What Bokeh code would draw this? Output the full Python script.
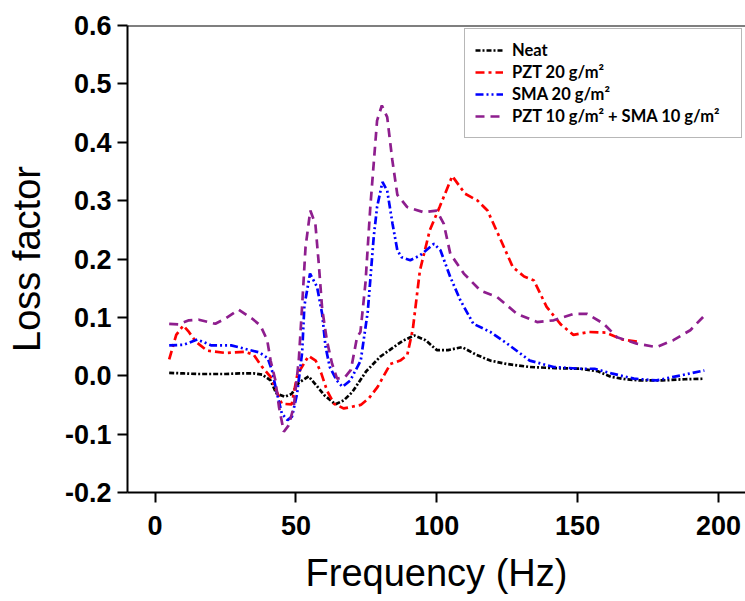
from bokeh.plotting import figure
from bokeh.models import FixedTicker, NumeralTickFormatter, Span, Legend, LegendItem
from bokeh.embed import file_html
from bokeh.resources import INLINE

# ---------------- data ----------------
neat_x = [5, 10, 15, 20, 25, 30, 35, 38, 41, 43, 46, 48.5, 51, 54.5, 57, 60, 64, 67, 70, 75,
          80, 85, 88, 92, 96, 100, 104, 109, 114, 119, 125, 133, 142, 151, 157, 162, 167, 172,
          180, 188, 195]
neat_y = [0.005, 0.004, 0.003, 0.003, 0.003, 0.004, 0.004, 0.002, -0.008, -0.03, -0.036, -0.031,
          -0.012, -0.001, -0.015, -0.033, -0.049, -0.042, -0.028, 0.008, 0.033, 0.05, 0.06, 0.069,
          0.061, 0.044, 0.044, 0.049, 0.036, 0.026, 0.02, 0.015, 0.013, 0.012, 0.008, -0.002,
          -0.006, -0.008, -0.008, -0.006, -0.005]

pzt_x = [5, 7.5, 10, 12, 14.5, 18.5, 25, 32, 35, 38, 41, 43, 45, 48.5, 50.5, 54.5, 57, 59, 61,
         63.5, 67, 73, 76, 79, 83.5, 87, 89.5, 91.5, 94, 97.5, 101, 105.5, 110, 114.5, 118,
         122.5, 127, 131, 134.5, 139, 144, 148.5, 154, 160, 166, 172]
pzt_y = [0.028, 0.07, 0.086, 0.075, 0.058, 0.043, 0.039, 0.041, 0.036, 0.015, -0.002, -0.025,
         -0.048, -0.049, 0.002, 0.034, 0.026, 0.004, -0.025, -0.048, -0.056, -0.05, -0.038,
         -0.019, 0.02, 0.026, 0.035, 0.08, 0.18, 0.249, 0.289, 0.342, 0.312, 0.3, 0.283, 0.235,
         0.186, 0.17, 0.163, 0.118, 0.088, 0.07, 0.075, 0.074, 0.062, 0.058]

sma_x = [5, 10, 15, 20, 27, 32, 37, 40, 41.5, 43.3, 45, 47, 48.6, 50.4, 52.2, 53, 55, 57.5,
         59.3, 60.5, 62, 64.5, 66.5, 69.3, 73, 75.5, 77.6, 78.8, 80.7, 82.4, 84.3, 86, 87.5,
         90.6, 94, 99, 101.3, 104.8, 108.4, 113, 119, 125, 133, 141.5, 151, 156, 162, 170,
         178, 184, 190, 195]
sma_y = [0.052, 0.053, 0.062, 0.052, 0.052, 0.046, 0.04, 0.03, 0.009, -0.031, -0.065, -0.076,
         -0.07, -0.031, 0.04, 0.12, 0.175, 0.152, 0.106, 0.05, 0.015, -0.008, -0.019, -0.008,
         0.026, 0.11, 0.237, 0.289, 0.332, 0.317, 0.26, 0.215, 0.203, 0.198, 0.206, 0.226,
         0.215, 0.169, 0.129, 0.089, 0.075, 0.055, 0.026, 0.015, 0.012, 0.012, 0.004, -0.005,
         -0.008, -0.002, 0.004, 0.009]

mix_x = [5, 8.4, 12, 15.5, 21.4, 25, 29.7, 34.4, 37.4, 39.8, 41, 42.7, 44, 45.7, 47.4, 49.2,
         51, 52.2, 53.4, 55.1, 56.9, 58.1, 59.3, 61, 62.8, 64.6, 67.5, 69.5, 71.7, 72.9, 74.7,
         76.4, 77.6, 78.8, 80.5, 82.4, 84.2, 86, 89.5, 95.4, 100, 102.5, 104.8, 109.6, 115.5,
         121.4, 128.5, 135.6, 141.5, 148.6, 153.4, 159.3, 164, 171, 178, 184, 190, 195]
mix_y = [0.089, 0.088, 0.095, 0.096, 0.089, 0.098, 0.113, 0.098, 0.086, 0.061, 0.026, -0.008,
         -0.054, -0.096, -0.085, -0.054, 0.026, 0.12, 0.22, 0.283, 0.26, 0.192, 0.115, 0.06,
         0.021, -0.005, -0.002, 0.01, 0.066, 0.075, 0.16, 0.289, 0.363, 0.437, 0.463, 0.443,
         0.37, 0.31, 0.289, 0.28, 0.283, 0.26, 0.209, 0.175, 0.146, 0.135, 0.106, 0.092, 0.095,
         0.106, 0.106, 0.089, 0.066, 0.055, 0.049, 0.061, 0.078, 0.103]

labels = ["Neat", "PZT 20 g/m\u00b2", "SMA 20 g/m\u00b2", "PZT 10 g/m\u00b2 + SMA 10 g/m\u00b2"]
x_ticks = [0, 50, 100, 150, 200]
y_ticks = [-0.2, -0.1, 0.0, 0.1, 0.2, 0.3, 0.4, 0.5, 0.6]

# ---------------- figure ----------------
p = figure(width=745, height=601, output_backend="svg", toolbar_location=None,
           x_range=(-9.8, 209.6), y_range=(-0.2, 0.6),
           min_border_left=127, min_border_top=25, min_border_bottom=109, min_border_right=0,
           background_fill_color="white", border_fill_color="white")
p.outline_line_color = None
p.grid.visible = False

styles = [
    ("black", "5 2 2 2"),
    ("#ff0000", "9 4 3 4"),
    ("#0000ff", "8 3 2 3 2 3"),
    ("#8e1e8e", "9 6"),
]
series = [(neat_x, neat_y), (pzt_x, pzt_y), (sma_x, sma_y), (mix_x, mix_y)]
items = []
for (xs, ys), (col, dash), lab in zip(series, styles, labels):
    r = p.line(xs, ys, line_color=col, line_dash=dash, line_width=2.7)
    items.append(LegendItem(label=lab, renderers=[r]))

top = Span(location=0.6, dimension="width", line_color="black", line_width=2)
p.add_layout(top)

for ax in (p.xaxis[0], p.yaxis[0]):
    ax.axis_line_width = 2
    ax.axis_line_color = "black"
    ax.major_tick_line_width = 2
    ax.major_tick_in = 0
    ax.major_tick_out = 10
    ax.minor_tick_line_color = None
    ax.major_label_text_font = "Liberation Sans"
    ax.major_label_text_font_style = "bold"
    ax.major_label_text_font_size = "27px"
    ax.major_label_text_color = "black"
    ax.axis_label_text_font = "Liberation Sans"
    ax.axis_label_text_font_style = "normal"
    ax.axis_label_text_font_size = "38px"
    ax.axis_label_text_color = "black"

p.xaxis.ticker = FixedTicker(ticks=x_ticks)
p.yaxis.ticker = FixedTicker(ticks=y_ticks)
p.yaxis.formatter = NumeralTickFormatter(format="0.0")
p.xaxis.axis_label = "Frequency (Hz)"
p.yaxis.axis_label = "Loss factor"
p.xaxis.major_label_standoff = 13
p.yaxis.major_label_standoff = 6
p.xaxis.axis_label_standoff = 14
p.yaxis.axis_label_standoff = 14

legend = Legend(items=items, location="top_right", margin=3,
                padding=10, spacing=0, glyph_width=28, glyph_height=22,
                label_height=22, label_standoff=9, label_width=219,
                label_text_font="Lato", label_text_font_style="bold",
                label_text_font_size="16.5px", label_text_color="black",
                border_line_color="#707070", border_line_width=1.5,
                background_fill_color="white", background_fill_alpha=1)
p.add_layout(legend)

open("out.html", "w").write(file_html(p, INLINE))
